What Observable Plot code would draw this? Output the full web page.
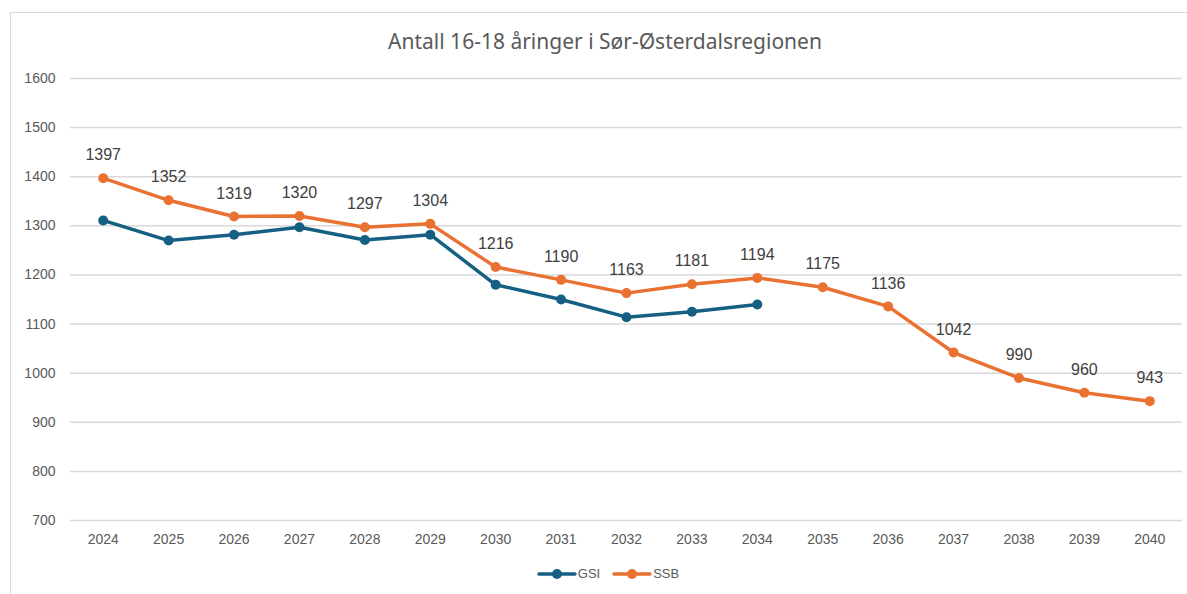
<!DOCTYPE html>
<html>
<head>
<meta charset="utf-8">
<script src="https://cdn.jsdelivr.net/npm/d3@7"></script>
<script src="https://cdn.jsdelivr.net/npm/@observablehq/plot@0.6"></script>
<style>
  html, body { margin: 0; padding: 0; background: #fff; }
  #wrap { position: relative; width: 1187px; height: 594px; overflow: hidden; background: #fff; }
  #frame { position: absolute; left: 10px; top: 12px; width: 1300px; height: 700px; border: 1.5px solid #d9d9d9; box-sizing: border-box; }
  #title { position: absolute; top: 27px; left: 10px; width: 1190px; text-align: center; font-family: "Noto Sans", "Open Sans", sans-serif; font-size: 21px; color: #595959; }
  #chart { position: absolute; left: 0; top: 0; }
  #legend { position: absolute; top: 566px; left: 0; width: 1216px; display: flex; justify-content: center; gap: 12px; font-family: "Liberation Sans", Arial, sans-serif; font-size: 13px; color: #595959; }
  .item { display: flex; align-items: center; gap: 1px; }
</style>
</head>
<body>
<div id="wrap">
  <div id="frame"></div>
  <div id="chart"></div>
  <div id="title">Antall 16-18 åringer i Sør-Østerdalsregionen</div>
  <div id="legend"></div>
</div>
<script>
const years = [2024, 2025, 2026, 2027, 2028, 2029, 2030, 2031, 2032, 2033, 2034, 2035, 2036, 2037, 2038, 2039, 2040];
const ssb = [1397, 1352, 1319, 1320, 1297, 1304, 1216, 1190, 1163, 1181, 1194, 1175, 1136, 1042, 990, 960, 943];
const gsi = [1311, 1270, 1282, 1297, 1271, 1282, 1180, 1150, 1114, 1125, 1140, null, null, null, null, null, null];
const yTicks = [700, 800, 900, 1000, 1100, 1200, 1300, 1400, 1500, 1600];
const seriesNames = ["GSI", "SSB"];
const seriesColors = ["#156082", "#E97132"];

const ssbData = years.map((y, i) => ({year: y, value: ssb[i]}));
const gsiData = years.map((y, i) => ({year: y, value: gsi[i]})).filter(d => d.value != null);

const font = "Liberation Sans, Arial, sans-serif";
const chart = Plot.plot({
  width: 1187,
  height: 560,
  marginLeft: 70,
  marginRight: 5,
  marginTop: 78,
  marginBottom: 40,
  style: {fontFamily: font, color: "#595959", background: "transparent"},
  x: {type: "point", domain: years, padding: 0.5, round: false, label: null},
  y: {domain: [700, 1600], label: null},
  marks: [
    Plot.gridY(yTicks, {stroke: "#d9d9d9", strokeOpacity: 1, strokeWidth: 1.5}),
    Plot.axisY(yTicks, {tickSize: 0, tickPadding: 15, tickFormat: d => String(d), fontSize: 14, fill: "#595959", label: null}),
    Plot.axisX(years, {tickSize: 0, tickPadding: 14, tickFormat: d => String(d), fontSize: 14, fill: "#595959", label: null}),
    Plot.line(gsiData, {x: "year", y: "value", stroke: seriesColors[0], strokeWidth: 3.5}),
    Plot.dot(gsiData, {x: "year", y: "value", fill: seriesColors[0], r: 5}),
    Plot.line(ssbData, {x: "year", y: "value", stroke: seriesColors[1], strokeWidth: 3.5}),
    Plot.dot(ssbData, {x: "year", y: "value", fill: seriesColors[1], r: 5}),
    Plot.text(ssbData, {x: "year", y: "value", text: d => String(d.value), dy: -23, fill: "#404040", fontSize: 16, fontFamily: font})
  ]
});
document.getElementById("chart").appendChild(chart);

const legend = document.getElementById("legend");
seriesNames.forEach((name, i) => {
  const item = document.createElement("div");
  item.className = "item";
  item.innerHTML = `<svg width="40" height="14"><line x1="2" y1="7" x2="38" y2="7" stroke="${seriesColors[i]}" stroke-width="3.5" stroke-linecap="round"/><circle cx="20" cy="7" r="5" fill="${seriesColors[i]}"/></svg><span>${name}</span>`;
  legend.appendChild(item);
});
</script>
</body>
</html>
